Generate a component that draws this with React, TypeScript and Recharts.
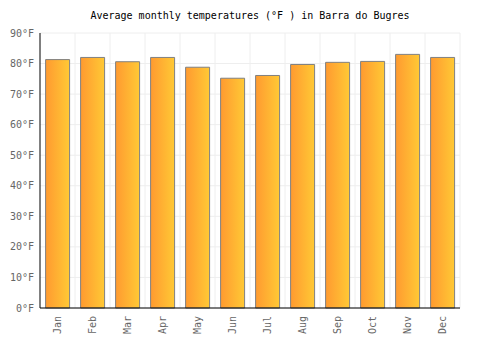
import { BarChart, Bar, XAxis, YAxis, CartesianGrid } from "recharts";

const months = ["Jan", "Feb", "Mar", "Apr", "May", "Jun", "Jul", "Aug", "Sep", "Oct", "Nov", "Dec"];
const tempsF = [81.3, 82.0, 80.6, 82.0, 78.8, 75.2, 76.1, 79.7, 80.4, 80.7, 83.0, 82.0];
const yTicks = [0, 10, 20, 30, 40, 50, 60, 70, 80, 90];

const title = "Average monthly temperatures (°F ) in Barra do Bugres";
const font = "'DejaVu Sans Mono', monospace";

const data = months.map((m, i) => ({ month: m, temp: tempsF[i] }));

function MonthTick(props: any) {
  const { x, y, payload } = props;
  return (
    <text
      x={x}
      y={y}
      transform={`rotate(-90, ${x}, ${y})`}
      textAnchor="end"
      dominantBaseline="central"
      fontFamily={font}
      fontSize={10}
      fill="#666"
    >
      {payload.value}
    </text>
  );
}

export default function App() {
  return (
    <div style={{ position: "absolute", left: 0, top: 0, width: 500, height: 350, background: "#fff" }}>
      <div
        style={{
          position: "absolute",
          top: 10,
          left: 0,
          width: 500,
          textAlign: "center",
          fontFamily: font,
          fontSize: 10,
          color: "#000",
        }}
      >
        {title}
      </div>
      <BarChart
        width={500}
        height={350}
        data={data}
        margin={{ top: 33, right: 40, left: 0, bottom: 0 }}
        barCategoryGap="16%"
      >
        <defs>
          <linearGradient id="barFill" x1="0" y1="0" x2="1" y2="0">
            <stop offset="0%" stopColor="#ff9a30" />
            <stop offset="100%" stopColor="#ffc935" />
          </linearGradient>
        </defs>
        <CartesianGrid
          stroke="#eeeeee"
          verticalCoordinatesGenerator={({ offset }: any) =>
            months.map((_, i) => offset.left + ((i + 1) * offset.width) / months.length)
          }
        />
        <XAxis
          dataKey="month"
          height={42}
          tickLine={false}
          axisLine={{ stroke: "#000" }}
          tick={<MonthTick />}
          tickSize={6}
          interval={0}
        />
        <YAxis
          width={40}
          domain={[0, 90]}
          ticks={yTicks}
          tickLine={false}
          tickSize={4}
          axisLine={{ stroke: "#000" }}
          tickFormatter={(v) => `${v}°F`}
          tick={{ fontFamily: font, fontSize: 10, fill: "#666" }}
          interval={0}
        />
        <Bar
          dataKey="temp"
          fill="url(#barFill)"
          stroke="#808080"
          strokeWidth={1}
          isAnimationActive={false}
        />
      </BarChart>
    </div>
  );
}
